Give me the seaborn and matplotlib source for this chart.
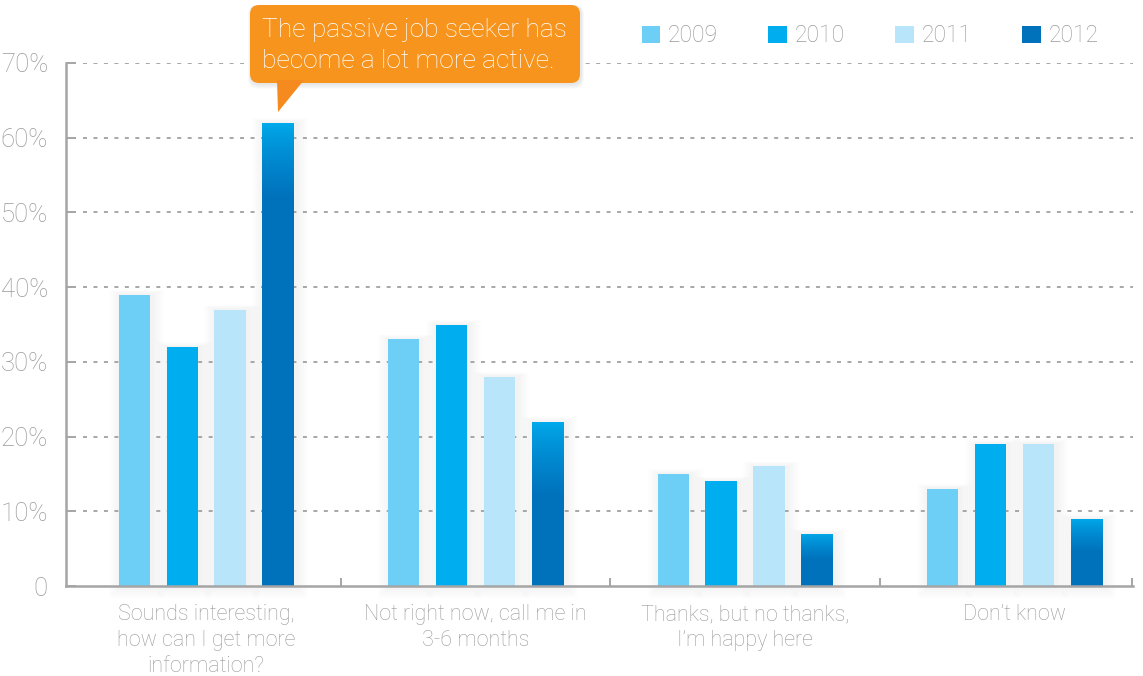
import numpy as np
import pandas as pd
import matplotlib
matplotlib.use("Agg")
import matplotlib.pyplot as plt
import matplotlib.patches as mpatches
from matplotlib.colors import to_rgb
import seaborn as sns

# ---- data -------------------------------------------------------------
categories = [
    "Sounds interesting,\nhow can I get more\ninformation?",
    "Not right now, call me in\n3-6 months",
    "Thanks, but no thanks,\nI\u2019m happy here",
    "Don\u2019t know",
]
years = ["2009", "2010", "2011", "2012"]
pct_2009 = [39, 33, 15, 13]
pct_2010 = [32, 35, 14, 19]
pct_2011 = [37, 28, 16, 19]
pct_2012 = [62, 22, 7, 9]
y_ticks = [0, 10, 20, 30, 40, 50, 60, 70]
y_tick_labels = ["0", "10%", "20%", "30%", "40%", "50%", "60%", "70%"]
callout_text = "The passive job seeker has\nbecome a lot more active."

series = {"2009": pct_2009, "2010": pct_2010, "2011": pct_2011, "2012": pct_2012}
df = pd.DataFrame(
    [(cat, yr, series[yr][i]) for i, cat in enumerate(categories) for yr in years],
    columns=["response", "year", "pct"],
)

palette = {"2009": "#6DCFF6", "2010": "#00AEEF", "2011": "#B8E5F9", "2012": "#0072BC"}
grad_top = "#00AEEF"
text_grey = "#9A9A9A"
axis_grey = "#A5A5A5"
orange = "#F7941D"

sns.set_theme(style="white")
plt.rcParams["font.family"] = ["Roboto", "DejaVu Sans"]
plt.rcParams["font.weight"] = "light"

W, H = 1143, 676
fig = plt.figure(figsize=(W / 100, H / 100), dpi=100)
ax = fig.add_axes([66 / W, 1 - 586 / H, (1133 - 66) / W, (586 - 63) / H])

sns.barplot(
    data=df, x="response", y="pct", hue="year", hue_order=years,
    palette=palette, width=0.71, gap=0.345, saturation=1,
    linewidth=0, edgecolor="none", errorbar=None, ax=ax, zorder=3,
)

XMIN, XMAX = -0.52, 3.44
ax.set_xlim(XMIN, XMAX)
ax.set_ylim(0, 70)

bars = [p for cont in ax.containers for p in cont]

# soft shadows behind every bar
px_x = (XMAX - XMIN) / (1133 - 66)
px_y = 70 / (586 - 63)
for patch in bars:
    x, w, h = patch.get_x(), patch.get_width(), patch.get_height()
    for m in range(2, 14, 2):
        ax.add_patch(mpatches.Rectangle(
            (x - m * px_x + 2 * px_x, -m * px_y), w + 2 * m * px_x,
            h + m * px_y * 1.4, facecolor="black", edgecolor="none",
            alpha=0.006, zorder=0.5, clip_on=False))

# vertical gradient on the 2012 bars
c_top, c_bot = np.array(to_rgb(grad_top)), np.array(to_rgb(palette["2012"]))
for patch in ax.containers[3]:
    x, w, h = patch.get_x(), patch.get_width(), patch.get_height()
    n = 300
    yy = np.linspace(0, h, n)
    L = min(0.5 * h, 10.0)
    t = np.clip((h - yy) / L, 0, 1) ** 0.7
    img = (c_top[None, :] * (1 - t[:, None]) + c_bot[None, :] * t[:, None])
    img = np.repeat(img[:, None, :], 2, axis=1)
    im = ax.imshow(img, extent=[x, x + w, 0, h], origin="lower",
                   aspect="auto", zorder=3.5, interpolation="bilinear")
    im.set_clip_path(patch)
ax.set_xlim(XMIN, XMAX)
ax.set_ylim(0, 70)

# dotted gridlines
for yv in y_ticks[1:]:
    ax.axhline(yv, xmin=17 / 1067, xmax=1, color="#A0A0A0", lw=1.3,
               linestyle=(0, (2.2, 3.6)), zorder=1)

# spines and ticks
for s in ["top", "right"]:
    ax.spines[s].set_visible(False)
for s in ["left", "bottom"]:
    ax.spines[s].set_color(axis_grey)
    ax.spines[s].set_linewidth(1.8)
    ax.spines[s].set_zorder(5)

ax.set_yticks(y_ticks)
ax.set_yticklabels(y_tick_labels)
ax.tick_params(axis="y", direction="in", length=7, width=1.4, color=axis_grey,
               pad=13, labelsize=18.5, labelcolor=text_grey, left=True)
ax.set_xticks(range(len(categories)))
ax.set_xticklabels(categories, linespacing=1.3)
ax.tick_params(axis="x", bottom=False, pad=7, labelsize=15.5, labelcolor=text_grey)
ax.set_xticks([0.5, 1.5, 2.5, XMAX - 0.002], minor=True)
ax.tick_params(axis="x", which="minor", direction="in", length=6, width=1.4,
               color=axis_grey, bottom=True)
ax.set_xlabel("")
ax.set_ylabel("")

# legend
handles, labels = ax.get_legend_handles_labels()
ax.legend_.remove()
fig.legend(handles, labels, ncol=4, loc="center right",
           bbox_to_anchor=(1108 / W, 1 - 36 / H), frameon=False,
           handlelength=0.8, handleheight=0.8, handletextpad=0.35,
           columnspacing=2.2, fontsize=16.5, labelcolor=text_grey,
           borderaxespad=0)

# callout bubble
def fx(px):
    return px / W

def fy(py):
    return 1 - py / H

for k in range(1, 7):
    fig.patches.append(mpatches.FancyBboxPatch(
        (fx(251 - k * 0.5), fy(84 + k * 0.8)), fx(330 + k), (78 + k) / H,
        boxstyle="round,pad=0,rounding_size=0.008",
        transform=fig.transFigure, facecolor="black", edgecolor="none",
        alpha=0.015, zorder=8, mutation_aspect=W / H))
box = mpatches.FancyBboxPatch(
    (fx(250), fy(83)), fx(330), 78 / H,
    boxstyle="round,pad=0,rounding_size=0.008",
    transform=fig.transFigure, facecolor=orange, edgecolor="none", zorder=10,
    mutation_aspect=W / H)
fig.patches.append(box)
tail = mpatches.Polygon(
    [(fx(277), fy(80)), (fx(304), fy(80)), (fx(278), fy(112))],
    closed=True, transform=fig.transFigure, facecolor="#F58A1F",
    edgecolor="none", zorder=10)
fig.patches.append(tail)
fig.text(fx(262), fy(18), callout_text, color="white", fontsize=19,
         va="top", ha="left", linespacing=1.35, zorder=11)

fig.savefig("out.png", dpi=100, facecolor="white")
